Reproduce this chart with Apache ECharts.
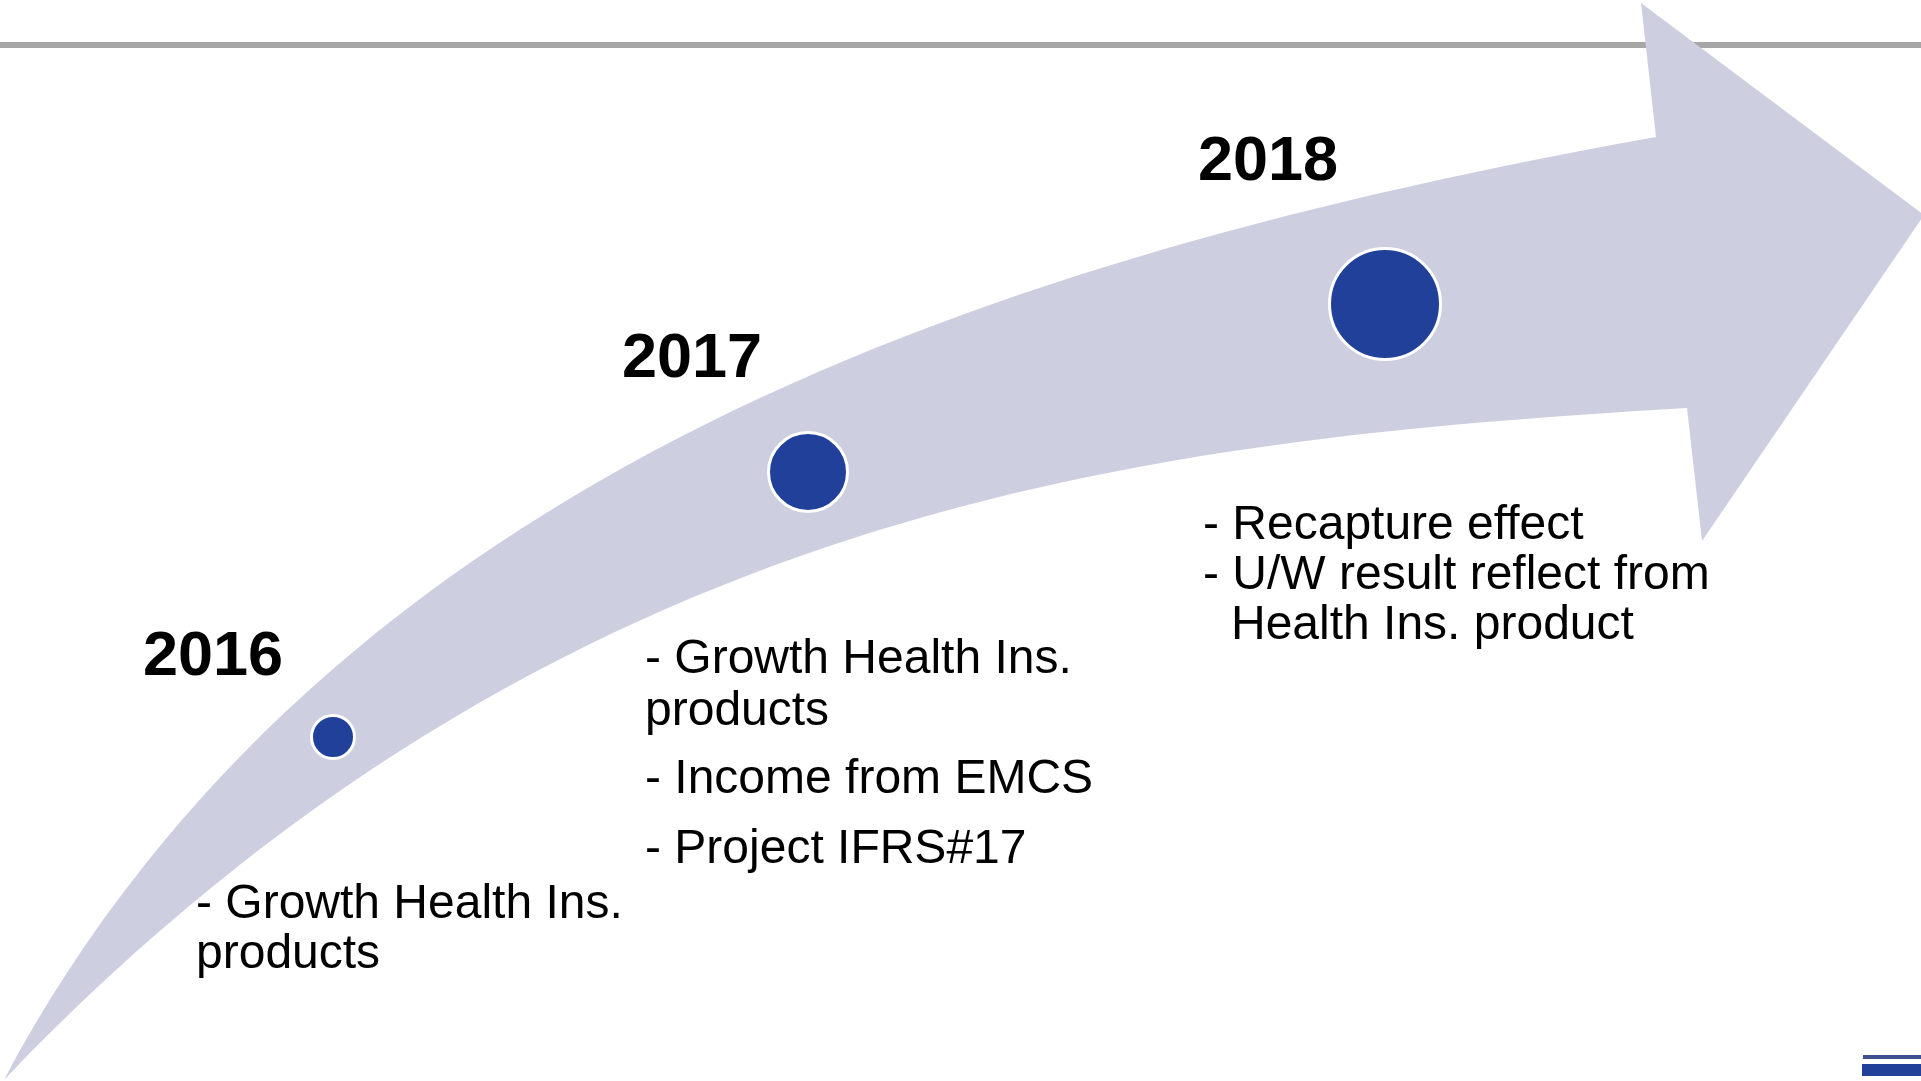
<!DOCTYPE html>
<html>
<head>
<meta charset="utf-8">
<script src="https://cdn.jsdelivr.net/npm/echarts@6/dist/echarts.min.js"></script>
<style>
  html, body { margin: 0; padding: 0; background: #fff; }
  #chart { width: 1921px; height: 1081px; }
</style>
</head>
<body>
<div id="chart"></div>
<script>
const years = ['2016', '2017', '2018']
const bubbleSizes = [43, 79, 111]
const notes = [
  ['- Growth Health Ins.', 'products'],
  ['- Growth Health Ins.', 'products', '- Income from EMCS', '- Project IFRS#17'],
  ['- Recapture effect', '- U/W result reflect from', 'Health Ins. product']
]

// layout, in the pixel units of the hidden axes
const bubblePos = [[333, 737], [808, 472], [1385, 304]]
const yearPos = [[143, 658], [622, 360], [1198, 163]]
const noteX = [[196, 196], [645, 645, 645, 645], [1203, 1203, 1231]]
const noteY = [[905, 955], [660, 712, 780, 850], [526, 576, 626]]

// arrow outline: upper cubic edge, head, lower cubic edge
const arrowUpper = [[4, 1080], [330, 470], [1000, 255], [1656, 137]]
const arrowHead = [[1641, 3], [1924, 215], [1702, 541], [1687, 408]]
const arrowLower = [[1150, 440], [560, 500], [4, 1080]]

const arrowColor = '#cdcfe0'
const dotColor = '#21409a'
const fontFamily = '"Liberation Sans", Arial, sans-serif'

const textItems = []
years.forEach((y, i) => {
  textItems.push({ value: yearPos[i], text: y, bold: true })
  notes[i].forEach((line, j) => {
    textItems.push({ value: [noteX[i][j], noteY[i][j]], text: line, bold: false })
  })
})

const chart = echarts.init(document.getElementById('chart'))

chart.setOption({
  animation: false,
  backgroundColor: '#ffffff',
  grid: { left: 0, right: 0, top: 0, bottom: 0 },
  xAxis: { type: 'value', min: 0, max: 1921, show: false },
  yAxis: { type: 'value', min: 0, max: 1081, inverse: true, show: false },
  graphic: [
    {
      type: 'rect',
      z: 0,
      shape: { x: 0, y: 42, width: 1921, height: 6 },
      style: { fill: '#a6a6a6' }
    },
    {
      type: 'rect',
      z: 0,
      shape: { x: 1863, y: 1055, width: 58, height: 4 },
      style: { fill: '#3d5190' }
    },
    {
      type: 'rect',
      z: 0,
      shape: { x: 1862, y: 1064, width: 59, height: 12 },
      style: { fill: '#21409a' }
    }
  ],
  series: [
    {
      type: 'custom',
      z: 1,
      silent: true,
      data: [[0, 0]],
      renderItem (params, api) {
        const p = pt => api.coord(pt).map(v => v.toFixed(1)).join(' ')
        let d = 'M ' + p(arrowUpper[0])
        d += ' C ' + p(arrowUpper[1]) + ' ' + p(arrowUpper[2]) + ' ' + p(arrowUpper[3])
        arrowHead.forEach(pt => { d += ' L ' + p(pt) })
        d += ' C ' + p(arrowLower[0]) + ' ' + p(arrowLower[1]) + ' ' + p(arrowLower[2]) + ' Z'
        return {
          type: 'path',
          shape: { pathData: d },
          style: { fill: arrowColor }
        }
      }
    },
    {
      type: 'scatter',
      z: 3,
      silent: true,
      data: bubblePos.map((pos, i) => [pos[0], pos[1], bubbleSizes[i], years[i]]),
      symbolSize: v => v[2],
      itemStyle: { color: dotColor, borderColor: '#ffffff', borderWidth: 3, opacity: 1 }
    },
    {
      type: 'custom',
      z: 4,
      silent: true,
      data: textItems,
      renderItem (params, api) {
        const item = textItems[params.dataIndex]
        const pos = api.coord([api.value(0), api.value(1)])
        return {
          type: 'text',
          x: pos[0],
          y: pos[1],
          style: {
            text: item.text,
            font: (item.bold ? 'bold 63px ' : '48px ') + fontFamily,
            fill: '#000000',
            align: 'left',
            verticalAlign: 'middle'
          }
        }
      }
    }
  ]
})
</script>
</body>
</html>
